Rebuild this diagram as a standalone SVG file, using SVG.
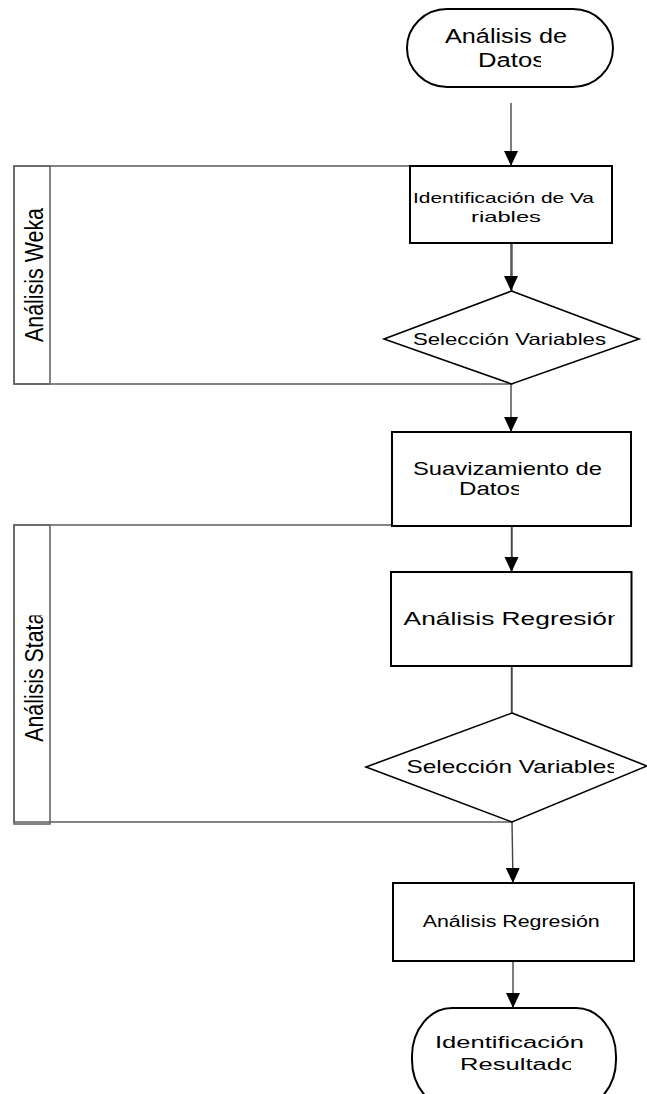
<svg xmlns="http://www.w3.org/2000/svg" width="647" height="1094" viewBox="0 0 647 1094">
  <style>
    .lane { fill: none; stroke: #666; stroke-width: 1.6; }
    .shape { fill: #fff; stroke: #000; stroke-width: 2; }
    .diamond { fill: #fff; stroke: #000; stroke-width: 1.6; }
    .conn { fill: none; stroke: #444; stroke-width: 1.4; }
    text { font-family: "Liberation Sans", Arial, sans-serif; fill: #000; }
  </style>
  <defs>
    <marker id="arrow" markerUnits="userSpaceOnUse" markerWidth="16" markerHeight="16" refX="15" refY="7" orient="auto">
      <path d="M0,0 L15,7 L0,14 z" fill="#000"/>
    </marker>
    <clipPath id="clipDatos1"><rect x="0" y="0" width="541" height="1094"/></clipPath>
    <clipPath id="clipDatos2"><rect x="0" y="0" width="519" height="1094"/></clipPath>
    <clipPath id="clipReg1"><rect x="0" y="0" width="615" height="1094"/></clipPath>
    <clipPath id="clipSel2"><rect x="0" y="0" width="614" height="1094"/></clipPath>
    <clipPath id="clipRes"><rect x="0" y="0" width="571" height="1094"/></clipPath>
    <clipPath id="clipStata"><rect x="0" y="615.5" width="647" height="479"/></clipPath>
  </defs>

  <!-- swimlanes -->
  <g id="lane-weka">
    <rect class="lane" x="14" y="166" width="498" height="218"/>
    <rect class="lane" x="14" y="166" width="36" height="218"/>
    <text font-size="21" textLength="134" lengthAdjust="spacingAndGlyphs" transform="translate(42.5,342) scale(1.2,1) rotate(-90)">Análisis Weka</text>
  </g>
  <g id="lane-stata">
    <rect class="lane" x="14" y="525" width="498" height="297"/>
    <rect class="lane" x="14" y="525" width="36" height="299"/>
    <g clip-path="url(#clipStata)">
      <text font-size="21" textLength="129" lengthAdjust="spacingAndGlyphs" transform="translate(42.5,741.7) scale(1.2,1) rotate(-90)">Análisis Stata</text>
    </g>
  </g>

  <!-- connectors -->
  <g id="connectors">
    <line class="conn" x1="511" y1="103" x2="511" y2="166" marker-end="url(#arrow)"/>
    <line class="conn" x1="511" y1="243" x2="511" y2="291" marker-end="url(#arrow)"/>
    <line class="conn" x1="511" y1="384" x2="511" y2="432" marker-end="url(#arrow)"/>
    <line class="conn" x1="511.5" y1="526" x2="511.5" y2="572" marker-end="url(#arrow)"/>
    <line class="conn" x1="511.5" y1="666" x2="511.5" y2="713"/>
    <line class="conn" x1="512" y1="822" x2="513" y2="883" marker-end="url(#arrow)"/>
    <line class="conn" x1="513" y1="961" x2="513" y2="1008" marker-end="url(#arrow)"/>
  </g>

  <!-- start -->
  <g id="start">
    <rect class="shape" x="407" y="9" width="206" height="78" rx="40" ry="39"/>
    <text font-size="19.5" x="445" y="43" textLength="122" lengthAdjust="spacingAndGlyphs">Análisis de</text>
    <g clip-path="url(#clipDatos1)">
      <text font-size="19.5" x="478" y="67" textLength="67" lengthAdjust="spacingAndGlyphs">Datos</text>
    </g>
  </g>

  <g id="identificacion-variables">
    <rect class="shape" x="410" y="166" width="202" height="77"/>
    <text font-size="15" x="413" y="203" textLength="181" lengthAdjust="spacingAndGlyphs">Identificación de Va</text>
    <text font-size="15" x="471" y="222" textLength="70" lengthAdjust="spacingAndGlyphs">riables</text>
  </g>

  <g id="seleccion-variables-weka">
    <polygon class="diamond" points="511.5,291 639,339 511.5,384 384,339"/>
    <text font-size="16.5" x="413" y="345" textLength="193" lengthAdjust="spacingAndGlyphs">Selección Variables</text>
  </g>

  <g id="suavizamiento">
    <rect class="shape" x="392" y="432" width="239" height="94"/>
    <text font-size="17.7" x="413" y="475" textLength="189" lengthAdjust="spacingAndGlyphs">Suavizamiento de</text>
    <g clip-path="url(#clipDatos2)">
      <text font-size="17.7" x="459" y="495" textLength="63" lengthAdjust="spacingAndGlyphs">Datos</text>
    </g>
  </g>

  <g id="analisis-regresion-stata">
    <rect class="shape" x="391" y="572" width="240.5" height="94"/>
    <g clip-path="url(#clipReg1)">
      <text font-size="18.6" x="403.6" y="625" textLength="218" lengthAdjust="spacingAndGlyphs">Análisis Regresión</text>
    </g>
  </g>

  <g id="seleccion-variables-stata">
    <polygon class="diamond" points="512,713 647,766 512,822 366,767"/>
    <g clip-path="url(#clipSel2)">
      <text font-size="18.6" x="406.5" y="773" textLength="212" lengthAdjust="spacingAndGlyphs">Selección Variables</text>
    </g>
  </g>

  <g id="analisis-regresion">
    <rect class="shape" x="393" y="883" width="241" height="78"/>
    <text font-size="16" x="422.7" y="927" textLength="177" lengthAdjust="spacingAndGlyphs">Análisis Regresión</text>
  </g>

  <g id="end">
    <rect class="shape" x="412" y="1008" width="204" height="100" rx="40" ry="48"/>
    <text font-size="17.3" x="435" y="1048" textLength="149" lengthAdjust="spacingAndGlyphs">Identificación</text>
    <g clip-path="url(#clipRes)">
      <text font-size="17.3" x="460" y="1070" textLength="128" lengthAdjust="spacingAndGlyphs">Resultados</text>
    </g>
  </g>
</svg>
